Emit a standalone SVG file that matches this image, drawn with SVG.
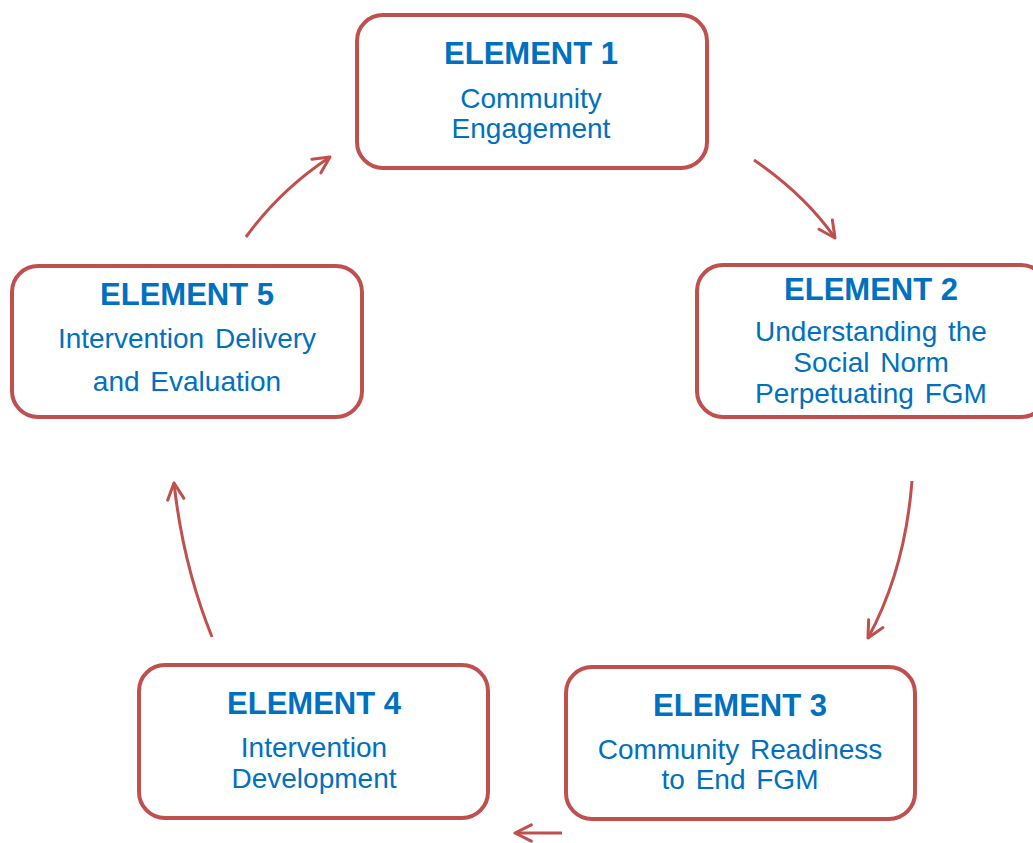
<svg xmlns="http://www.w3.org/2000/svg" width="1033" height="843" viewBox="0 0 1033 843">
<style>
.box{fill:#fff;stroke:#c0504d;stroke-width:4}
.t{font-family:"Liberation Sans",Arial,sans-serif;fill:#0070c0;text-anchor:middle}
.h{font-size:31px;font-weight:bold}
.b{font-size:28px;word-spacing:3px}
.c{fill:none;stroke:#c0504d;stroke-width:3;marker-end:url(#ah)}
</style>
<defs>
<marker id="ah" viewBox="0 0 12 12" refX="11" refY="6" markerWidth="14" markerHeight="14" markerUnits="userSpaceOnUse" orient="auto" overflow="visible">
<path d="M-3,-1 L11,6 L-3,13" fill="none" stroke="#c0504d" stroke-width="2.6" stroke-linecap="round" stroke-linejoin="round"/>
</marker>
</defs>
<rect width="1033" height="843" fill="#fff"/>
<g id="connectors">
<path class="c" d="M246,237 Q280,190 330,157"/>
<path class="c" d="M754,160 Q805,195 835,238"/>
<path class="c" d="M912,481 Q905,570 868,638"/>
<path class="c" d="M562,833 L515,833"/>
<path class="c" d="M212,637 Q183,565 174,483"/>
</g>
<g id="node1">
<rect class="box" x="357" y="15" width="350" height="153" rx="26"/>
<text class="t h" x="531" y="64">ELEMENT 1</text>
<text class="t b" x="531" y="108">Community</text>
<text class="t b" x="531" y="138">Engagement</text>
</g>
<g id="node2">
<rect class="box" x="697" y="265" width="350" height="152" rx="26"/>
<text class="t h" x="871" y="300">ELEMENT 2</text>
<text class="t b" x="871" y="341">Understanding the</text>
<text class="t b" x="871" y="372">Social Norm</text>
<text class="t b" x="871" y="403">Perpetuating FGM</text>
</g>
<g id="node3">
<rect class="box" x="566" y="667" width="349" height="152" rx="26"/>
<text class="t h" x="740" y="716">ELEMENT 3</text>
<text class="t b" x="740" y="759">Community Readiness</text>
<text class="t b" x="740" y="789">to End FGM</text>
</g>
<g id="node4">
<rect class="box" x="139" y="665" width="349" height="153" rx="26"/>
<text class="t h" x="314" y="714">ELEMENT 4</text>
<text class="t b" x="314" y="757">Intervention</text>
<text class="t b" x="314" y="788">Development</text>
</g>
<g id="node5">
<rect class="box" x="12" y="266" width="350" height="151" rx="26"/>
<text class="t h" x="187" y="305">ELEMENT 5</text>
<text class="t b" x="187" y="348">Intervention Delivery</text>
<text class="t b" x="187" y="391">and Evaluation</text>
</g>
</svg>
